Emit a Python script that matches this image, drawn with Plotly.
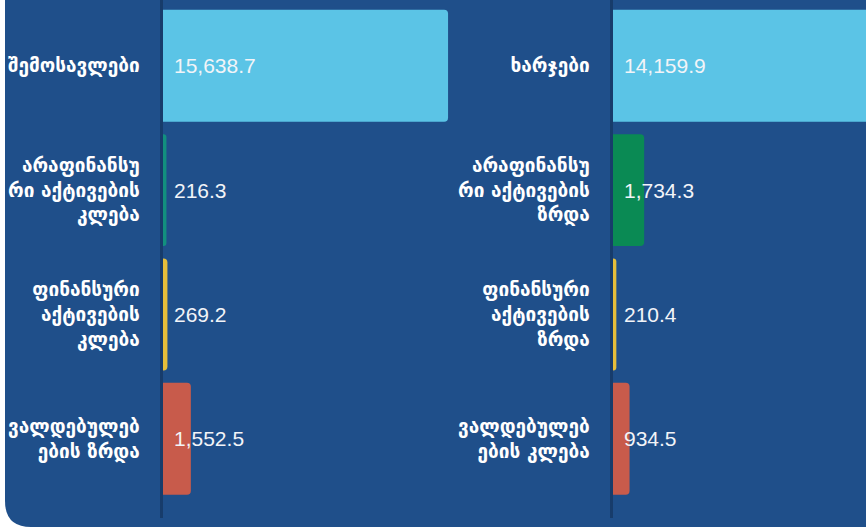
import plotly.graph_objects as go

# ---- data ----
left_categories = [
    "შემოსავლები",
    "არაფინანსუ<br>რი აქტივების<br>კლება",
    "ფინანსური<br>აქტივების<br>კლება",
    "ვალდებულებ<br>ების ზრდა",
]
left_values = [15638.7, 216.3, 269.2, 1552.5]

right_categories = [
    "ხარჯები",
    "არაფინანსუ<br>რი აქტივების<br>ზრდა",
    "ფინანსური<br>აქტივების<br>ზრდა",
    "ვალდებულებ<br>ების კლება",
]
right_values = [14159.9, 1734.3, 210.4, 934.5]

left_colors = ["#5BC4E6", "#12907E", "#E6BE3A", "#C85B4B"]
right_colors = ["#5BC4E6", "#0A8A54", "#E6BE3A", "#C85B4B"]

W, H = 866, 527
BG = "#1F4F8A"
AXIS = "#173C6B"
PX_PER_UNIT = 18.26 / 1000.0

left_x0, left_x1 = 162.5, 462.0
right_x0, right_x1 = 612.5, 866.0
plot_bottom = 518.0

fig = go.Figure()

fig.add_trace(go.Bar(
    x=left_values, y=left_categories, orientation="h",
    marker=dict(color=left_colors, line=dict(width=0)),
    xaxis="x", yaxis="y", hoverinfo="skip", showlegend=False,
))
fig.add_trace(go.Bar(
    x=right_values, y=right_categories, orientation="h",
    marker=dict(color=right_colors, line=dict(width=0)),
    xaxis="x2", yaxis="y2", hoverinfo="skip", showlegend=False,
))

value_font = dict(family="Liberation Sans, Arial, sans-serif", size=21, color="#F2F4F8")
annotations = []
for cats, vals, xr, yr in [(left_categories, left_values, "x", "y"),
                           (right_categories, right_values, "x2", "y2")]:
    for c, v in zip(cats, vals):
        annotations.append(dict(
            x=0, y=c, xref=xr, yref=yr, text=f"{v:,.1f}", showarrow=False,
            xanchor="left", yanchor="middle", xshift=9, font=value_font,
        ))

tick_font = dict(family="DejaVu Sans, sans-serif", size=19, color="white", weight="bold")

# y range so category centres land where the reference has them
spacing = 124.33
centre0 = 65.8
y_top = -centre0 / spacing
y_bot = (plot_bottom - centre0) / spacing

common_y = dict(
    type="category", range=[y_bot, y_top], showline=True, linecolor=AXIS, linewidth=3,
    showgrid=False, zeroline=False, ticks="", tickfont=tick_font,
    ticklabelstandoff=16, domain=[(H - plot_bottom) / H, 1],
)
common_x = dict(showline=False, showgrid=False, zeroline=False, showticklabels=False, ticks="")

fig.update_layout(
    width=W, height=H,
    margin=dict(l=0, r=0, t=0, b=0),
    paper_bgcolor="white",
    plot_bgcolor="rgba(0,0,0,0)",
    bargap=0.1,
    barcornerradius=4,
    xaxis=dict(common_x, domain=[left_x0 / W, left_x1 / W],
               range=[0, (left_x1 - left_x0) / PX_PER_UNIT]),
    xaxis2=dict(common_x, domain=[right_x0 / W, right_x1 / W],
                range=[0, (right_x1 - right_x0) / PX_PER_UNIT]),
    yaxis=dict(common_y, anchor="x"),
    yaxis2=dict(common_y, anchor="x2"),
    annotations=annotations,
    showlegend=False,
    hovermode=False,
)

# rounded background panel (white strip on the left, rounded bottom-left corner)
x0 = 5 / W
rx, ry = 26 / W, 26 / H
path = (f"M {x0},1 L {x0},{ry} Q {x0},0 {x0 + rx},0 L 1,0 L 1,1 Z")
fig.add_shape(type="path", path=path, xref="paper", yref="paper",
              fillcolor=BG, line=dict(width=0), layer="below")

fig.write_html(
    "out.html",
    config={"displayModeBar": False},
    post_script="document.body.style.margin='0';document.body.style.overflow='hidden';",
)
